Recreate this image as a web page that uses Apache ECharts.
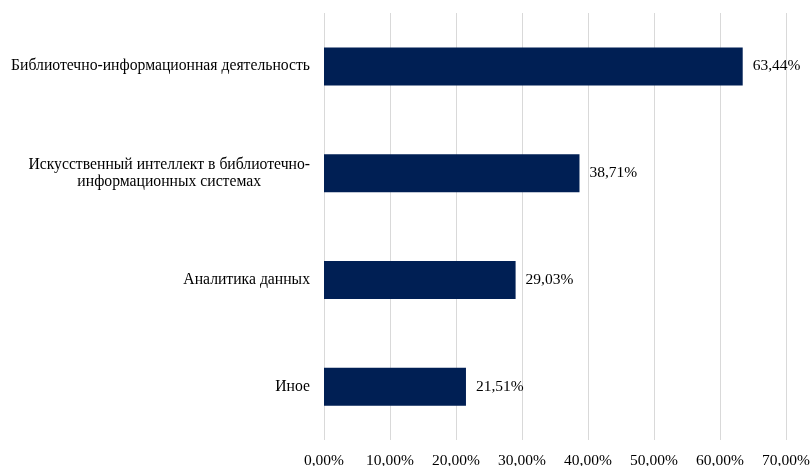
<!DOCTYPE html>
<html>
<head>
<meta charset="utf-8">
<script src="https://cdn.jsdelivr.net/npm/echarts@6/dist/echarts.min.js"></script>
<style>html,body{margin:0;padding:0;background:#fff;}#c{width:812px;height:466px;}</style>
</head>
<body>
<div id="c"></div>
<script>
var categories = [
  'Библиотечно-информационная деятельность',
  'Искусственный интеллект в библиотечно-\nинформационных системах',
  'Аналитика данных',
  'Иное'
];
var values = [63.44, 38.71, 29.03, 21.51];
var tickMin = 0, tickMax = 70, tickStep = 10;

function pct(v) { return v.toFixed(2).replace('.', ',') + '%'; }

var chart = echarts.init(document.getElementById('c'), null, {renderer: 'canvas'});
var font = '"Liberation Serif", "Times New Roman", serif';
chart.setOption({
  animation: false,
  backgroundColor: '#ffffff',
  textStyle: {fontFamily: font},
  grid: {left: 324, right: 26, top: 13, bottom: 26, containLabel: false, outerBoundsMode: 'none'},
  xAxis: {
    type: 'value', min: tickMin, max: tickMax, interval: tickStep,
    axisLine: {show: false}, axisTick: {show: false},
    splitLine: {show: true, lineStyle: {color: '#d9d9d9', width: 1}},
    axisLabel: {
      formatter: function (v) { return pct(v); },
      color: '#000', fontSize: 15.5, fontFamily: font, margin: 13
    }
  },
  yAxis: {
    type: 'category', data: categories, inverse: true,
    axisLine: {show: false}, axisTick: {show: false},
    axisLabel: {
      color: '#000', fontSize: 15.7, fontFamily: font, margin: 14,
      formatter: function (v) {
        return v.split('\n').map(function (s) { return '{c|' + s + '}'; }).join('\n');
      },
      rich: {c: {align: 'center', fontSize: 15.7, fontFamily: font, color: '#000', lineHeight: 17}}
    }
  },
  series: [{
    type: 'bar', data: values, barWidth: 38,
    itemStyle: {color: '#001f54'},
    label: {
      show: true, position: 'right', distance: 10,
      color: '#000', fontSize: 15.5, fontFamily: font,
      formatter: function (p) { return pct(p.value); }
    }
  }]
});
</script>
</body>
</html>
